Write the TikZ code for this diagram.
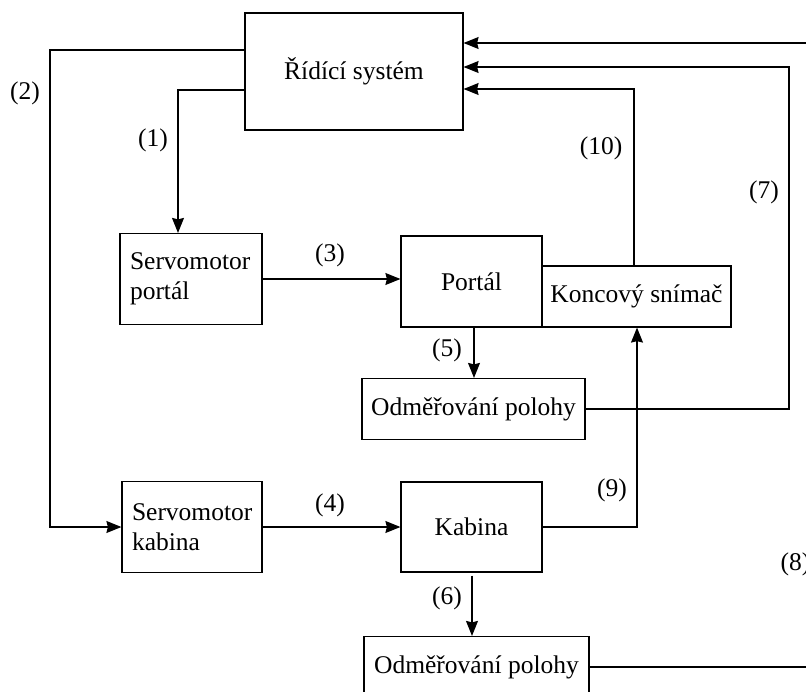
\documentclass[tikz,border=0pt]{standalone}
\usepackage{fontspec}
\setmainfont{Liberation Serif}
\usetikzlibrary{arrows.meta}
\begin{document}
\begin{tikzpicture}[x=1pt,y=-1pt,line width=1.2pt,
    blok/.style={draw,rectangle,inner sep=0pt,font=\fontsize{25.5}{30}\selectfont},
    servo/.style={blok,align=left,inner xsep=10pt,minimum height=91},
    cislo/.style={inner sep=0pt,font=\fontsize{25.5}{30}\selectfont},
    sipka/.style={-{Stealth[length=15pt,width=12pt,inset=1.5pt]}}]
    \clip (0,0) rectangle (806,691);%le cadre coupe (8) et la derniere boite
    \node[blok,minimum width=218,minimum height=117] (ridici) at (354,71.5) {Řídící systém};
    \node[servo,text width=122] (servoP) at (191,279) {Servomotor\\portál};
    \node[blok,minimum width=141,minimum height=91] (portal) at (471.5,281.5) {Portál};
    \node[blok,minimum width=189,minimum height=61] (koncovy) at (636.5,296.5) {Koncový snímač};
    \node[blok,minimum width=223,minimum height=61] (odmP) at (473.5,409) {Odměřování polohy};
    \node[servo,text width=120] (servoK) at (192,527) {Servomotor\\kabina};
    \node[blok,minimum width=141,minimum height=90] (kabina) at (471.5,527) {Kabina};
    \node[blok,minimum width=225,minimum height=61] (odmK) at (476.5,667) {Odměřování polohy};
    \coordinate (z1) at (178,90);
    \coordinate (z2) at (50,50);
    \coordinate (z5) at (474,0);
    \coordinate (z6) at (472,0);
    \coordinate (z7) at (789,67);
    \coordinate (z8) at (822,43);
    \coordinate (z9) at (637,0);
    \coordinate (z10) at (634,89);
    \draw[sipka] (ridici.west |- z1) -| (servoP.north -| z1);
    \draw[sipka] (ridici.west |- z2) -- (z2) |- (servoK.west);
    \draw[sipka] (servoP.east) -- (portal.west |- servoP.east);
    \draw[sipka] (servoK.east) -- (kabina.west |- servoK.east);
    \draw[sipka] (portal.south -| z5) -- (odmP.north -| z5);
    \draw[sipka,shorten <=3pt] (kabina.south -| z6) -- (odmK.north -| z6);
    \draw[sipka] (odmP.east) -| (z7) -- (ridici.east |- z7);
    \draw[sipka] (odmK.east) -| (z8) -- (ridici.east |- z8);
    \draw[sipka] (kabina.east) -| (koncovy.south -| z9);
    \draw[sipka] (koncovy.north -| z10) |- (ridici.east |- z10);
    \node[cislo] (c1) at (153,140) {(1)};
    \node[cislo] (c2) at (25,93) {(2)};
    \node[cislo] (c3) at (330,255) {(3)};
    \node[cislo] (c4) at (330,505) {(4)};
    \node[cislo] (c5) at (447,350) {(5)};
    \node[cislo] (c6) at (447,598) {(6)};
    \node[cislo] (c7) at (764,192) {(7)};
    \node[cislo,anchor=west] (c8) at (780,564) {(8)};
    \node[cislo] (c9) at (612,490) {(9)};
    \node[cislo] (c10) at (601,148) {(10)};
\end{tikzpicture}
\end{document}
